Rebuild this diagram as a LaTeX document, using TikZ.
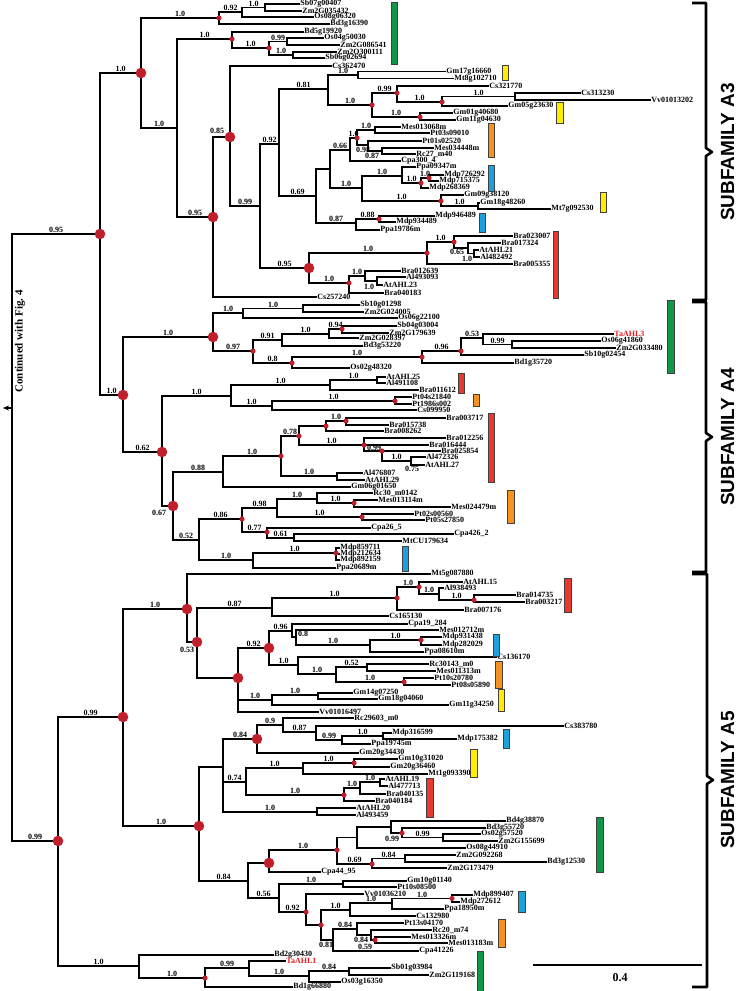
\documentclass[tikz,border=0pt]{standalone}
\usepackage{fontspec}
\setmainfont{Liberation Serif}
\newfontfamily\sflab{Liberation Sans}
\usetikzlibrary{arrows.meta}
\definecolor{dotred}{RGB}{192,32,44}
\definecolor{tared}{RGB}{228,30,36}
\definecolor{gbar}{RGB}{18,150,72}
\definecolor{ybar}{RGB}{255,236,0}
\definecolor{obar}{RGB}{246,146,30}
\definecolor{bbar}{RGB}{28,160,222}
\definecolor{rbar}{RGB}{234,56,46}
\newcounter{nd}
\tikzset{
 br/.style={line width=1.3pt, line cap=rect},
 lf/.style={anchor=west, inner sep=0.8pt, font=\fontsize{8}{9}\selectfont\bfseries},
 bl/.style={above, inner sep=0.6pt, font=\fontsize{8}{9}\selectfont\bfseries},
 cbar/.style={draw=black!75, line width=0.5pt},
 brk/.style={line width=2.6pt, line join=round},
 sub/.style={rotate=90, inner sep=0pt, font=\sflab\bfseries\fontsize{19}{22}\selectfont},
}
\newcommand\tvl[3]{\draw[br] (#1,#2) -- (#1,#3);}
\newcommand\thb[4]{\stepcounter{nd}\draw[br] (#1,#3) -- (#2,#3) node[midway,bl] (b\arabic{nd}) {#4};}
\newcommand\tlf[4]{\stepcounter{nd}\draw[br] (#1,#2) -- (#3,#2) node[lf] (l\arabic{nd}) {#4};}
\newcommand\tds[2]{\fill[dotred] (#1,#2) circle (2.6pt);}
\newcommand\tdb[2]{\fill[dotred] (#1,#2) circle (5.3pt);}
\newcommand\tbar[5]{\filldraw[cbar,fill=#1] (#2,#3) rectangle (#4,#5);}
\newcommand\tlab[3]{\stepcounter{nd}\node[bl,anchor=center] (m\arabic{nd}) at (#1,#2) {#3};}
\begin{document}
\begin{tikzpicture}[x=1pt,y=-1pt]
\useasboundingbox (0,0) rectangle (738,991);
% ---------------- left backbone (approx) ----------------
\tvl{12}{234}{841}
\draw[br,-{Stealth[length=6pt,width=5pt]}] (12,408) -- (3,408);
\node[rotate=90,font=\bfseries\fontsize{11}{13}\selectfont] (cont) at (20,341) {Continued with Fig. 4};
\thb{12}{100}{234}{0.95}
\tvl{100}{73}{395}
\thb{100}{141}{73}{1.0}
\thb{100}{123}{395}{1.0}
\thb{12}{58}{841}{0.99}
\tvl{58}{717}{966}
\thb{58}{123}{717}{0.99}
\thb{58}{139}{966}{1.0}
% ---------------- A3 ----------------
\tvl{141}{18}{128}
\thb{141}{219}{18}{1.0}
\tvl{219}{12}{24}
\thb{219}{242}{12}{0.92}
\tvl{242}{7.5}{17}
\thb{242}{265}{7.5}{1.0}
\tvl{265}{4}{11}
\tlf{265}{4}{299}{Sb07g00407}
\tlf{265}{11}{301}{Zm2G035432}
\tlf{242}{17}{313}{Os08g06320}
\tlf{219}{24}{329}{Bd3g16390}
\thb{141}{177}{128}{1.0}
\tvl{177}{39}{217}
\thb{177}{232}{39}{1.0}
\tvl{232}{32}{48}
\tlf{232}{32}{303}{Bd5g19920}
\thb{232}{269}{48}{1.0}
\tvl{269}{41.5}{55}
\thb{269}{287}{41.5}{0.99}
\tvl{287}{38}{45}
\tlf{287}{38}{323}{Os04g50030}
\tlf{287}{45}{339}{Zm2G086541}
\thb{269}{293}{55}{1.0}
\tvl{293}{52}{58}
\tlf{293}{52}{336}{Zm2O300111}
\tlf{293}{58}{324}{Sb06g02694}
\thb{177}{213}{217}{0.95}
\tvl{213}{137}{297}
\thb{213}{230}{137}{}
\tlab{217}{131}{0.85}
\tlf{213}{297}{316}{Cs257240}
\tvl{230}{66}{206}
\tlf{230}{66}{331}{Cs362470}
\thb{230}{260}{206}{0.99}
\tvl{260}{144}{268}
\thb{260}{279}{144}{0.92}
\tvl{279}{89}{196}
\thb{279}{328}{89}{0.81}
\tvl{328}{75}{105}
\thb{328}{358}{75}{1.0}
\tvl{358}{71.5}{78.5}
\tlf{358}{71.5}{445}{Gm17g16660}
\tlf{358}{78.5}{453}{Mt8g102710}
\thb{328}{372}{105}{1.0}
\tvl{372}{93}{117}
\thb{372}{397}{93}{0.99}
\tvl{397}{86}{102}
\tlf{397}{86}{488}{Cs321770}
\thb{397}{442}{102}{1.0}
\tvl{442}{96.5}{106}
\thb{442}{515}{96.5}{1.0}
\tvl{515}{93}{100}
\tlf{515}{93}{580}{Cs313230}
\tlf{515}{100}{650}{Vv01013202}
\tlf{442}{106}{507}{Gm05g23630}
\thb{372}{420}{117}{1.0}
\tvl{420}{113}{120}
\tlf{420}{113}{452}{Gm01g40680}
\tlf{420}{120}{455}{Gm11g04630}
\thb{279}{316}{196}{0.69}
\tvl{316}{169}{223}
\thb{316}{330}{169}{}
\tvl{330}{150}{188}
\thb{330}{350}{150}{0.66}
\tvl{350}{138}{161}
\thb{350}{357}{138}{1.0}
\tvl{357}{130}{145}
\thb{357}{375}{130}{1.0}
\tvl{375}{127}{133}
\tlf{375}{127}{400}{Mes013068m}
\tlf{375}{133}{429}{Pt03s09010}
\thb{357}{368}{145}{}
\tvl{368}{141}{151}
\tlf{368}{141}{421}{Pt01s02520}
\thb{368}{382}{151}{}
\tvl{382}{148}{154}
\tlf{382}{148}{433}{Mes034448m}
\tlf{382}{154}{415}{Rc27\_m40}
\tlf{350}{161}{400}{Cpa300\_4}
\tlab{363}{150}{0.98}
\tlab{372}{156}{0.87}
\thb{330}{362}{188}{1.0}
\tvl{362}{176}{201}
\thb{362}{402}{176}{1.0}
\tvl{402}{167}{183}
\tlf{402}{167}{415}{Ppa09347m}
\thb{402}{421}{183}{1.0}
\tvl{421}{178}{188}
\thb{421}{429}{178}{1.0}
\tvl{429}{175}{181}
\tlf{429}{175}{443}{Mdp726292}
\tlf{429}{181}{438}{Mdp715375}
\tlf{421}{188}{428}{Mdp268369}
\thb{362}{441}{201}{1.0}
\tvl{441}{195}{206}
\tlf{441}{195}{463}{Gm09g38120}
\thb{441}{478}{206}{1.0}
\tvl{478}{203}{209}
\tlf{478}{203}{479}{Gm18g48260}
\tlf{478}{209}{550}{Mt7g092530}
\thb{316}{356}{223}{0.87}
\tvl{356}{219}{230}
\thb{356}{379}{219}{0.88}
\tvl{379}{216}{222}
\tlf{379}{216}{434}{Mdp946489}
\tlf{379}{222}{395}{Mdp934489}
\tlf{356}{230}{379}{Ppa19786m}
\thb{260}{309}{268}{0.95}
\tvl{309}{253}{283}
\thb{309}{427}{253}{1.0}
\tvl{427}{242}{264}
\thb{427}{454}{242}{1.0}
\tvl{454}{236}{248}
\tlf{454}{236}{512}{Bra023007}
\thb{454}{468}{248}{}
\tvl{468}{243}{253.5}
\tlf{468}{243}{500}{Bra017324}
\thb{468}{474}{253.5}{}
\tvl{474}{250}{257}
\tlf{474}{250}{478}{AtAHL21}
\tlf{474}{257}{479}{Al482492}
\tlf{427}{264}{512}{Bra005355}
\tlab{457}{252}{0.65}
\tlab{467}{259}{1.0}
\thb{309}{349}{283}{1.0}
\tvl{349}{276}{293}
\thb{349}{365}{276}{1.0}
\tvl{365}{271}{281}
\tlf{365}{271}{400}{Bra012639}
\thb{365}{377}{281}{}
\tvl{377}{277}{285}
\tlf{377}{277}{405}{Al493093}
\tlf{377}{285}{382}{AtAHL23}
\tlf{349}{293}{383}{Bra040183}
\tlab{369}{287}{1.0}
% ---------------- A4 ----------------
\tvl{123}{337}{452}
\thb{123}{213}{337}{1.0}
\tvl{213}{313}{351}
\thb{213}{243}{313}{1.0}
\tvl{243}{308.5}{318}
\thb{243}{303}{308.5}{1.0}
\tvl{303}{305}{312}
\tlf{303}{305}{359}{Sb10g01298}
\tlf{303}{312}{363}{Zm2G024005}
\tlf{243}{318}{397}{Os06g22100}
\thb{213}{253}{351}{0.97}
\tvl{253}{340}{363}
\thb{253}{282}{340}{0.91}
\tvl{282}{334}{346}
\thb{282}{329}{334}{1.0}
\tvl{329}{329}{338}
\thb{329}{342}{329}{0.94}
\tvl{342}{326}{333}
\tlf{342}{326}{396}{Sb04g03004}
\tlf{342}{333}{388}{Zm2G179639}
\tlf{329}{338}{358}{Zm2G028397}
\tlf{282}{346}{362}{Bd3g53220}
\thb{253}{292}{363}{0.8}
\tvl{292}{357}{368}
\thb{292}{422}{357}{1.0}
\tvl{422}{351}{363}
\thb{422}{461}{351}{0.96}
\tvl{461}{338}{355}
\thb{461}{483}{338}{0.53}
\tvl{483}{334}{344.5}
\tlf{483}{334}{613}{\textcolor{tared}{TaAHL3}}
\thb{483}{512}{344.5}{0.99}
\tvl{512}{341}{348}
\tlf{512}{341}{600}{Os06g41860}
\tlf{512}{348}{615}{Zm2G033480}
\tlf{461}{355}{583}{Sb10g02454}
\tlf{422}{363}{513}{Bd1g35720}
\tlf{292}{368}{349}{Os02g48320}
\thb{123}{162}{452}{0.62}
\tvl{162}{396}{506}
\thb{162}{231}{396}{1.0}
\tvl{231}{385}{406}
\thb{231}{330}{385}{1.0}
\tvl{330}{380}{390}
\thb{330}{377}{380}{1.0}
\tvl{377}{377}{383}
\tlf{377}{377}{385}{AtAHL25}
\tlf{377}{383}{385}{Al491108}
\tlf{330}{390}{418}{Bra011612}
\thb{231}{272}{406}{1.0}
\tvl{272}{401}{410}
\thb{272}{395}{401}{1.0}
\tvl{395}{397}{404}
\tlf{395}{397}{411}{Pt04s21840}
\tlf{395}{404}{411}{Pt1986s002}
\tlf{272}{410}{416}{Cs099950}
\thb{162}{173}{506}{}
\tlab{159}{513}{0.67}
\tvl{173}{472}{540}
\thb{173}{223}{472}{0.88}
\tvl{223}{456}{487}
\thb{223}{281}{456}{1.0}
\tvl{281}{436}{476}
\thb{281}{299}{436}{0.78}
\tvl{299}{426}{445}
\thb{299}{326}{426}{}
\tvl{326}{421}{431}
\thb{326}{346}{421}{1.0}
\tvl{346}{418}{425}
\tlf{346}{418}{445}{Bra003717}
\tlf{346}{425}{388}{Bra015738}
\tlf{326}{431}{383}{Bra008262}
\thb{299}{364}{445}{1.0}
\tvl{364}{438}{451}
\tlf{364}{438}{445}{Bra012256}
\tlf{364}{445}{428}{Bra016444}
\thb{364}{382}{451}{}
\tlab{374}{448}{0.99}
\tvl{382}{451}{461}
\tlf{382}{451}{440}{Bra025854}
\thb{382}{411}{461}{1.0}
\tvl{411}{457}{465}
\tlf{411}{457}{425}{Al472326}
\tlf{411}{465}{424}{AtAHL27}
\tlab{412}{469}{0.75}
\thb{281}{337}{476}{1.0}
\tvl{337}{473}{480}
\tlf{337}{473}{362}{Al476807}
\tlf{337}{480}{364}{AtAHL29}
\tlf{223}{487}{350}{Gm06g01650}
\thb{173}{199}{540}{0.52}
\tvl{199}{519}{560}
\thb{199}{242}{519}{0.86}
\tvl{242}{508}{532}
\thb{242}{277}{508}{0.98}
\tvl{277}{499}{517}
\thb{277}{317}{499}{1.0}
\tvl{317}{493}{503}
\tlf{317}{493}{372}{Rc30\_m0142}
\thb{317}{354}{503}{1.0}
\tvl{354}{500}{507}
\tlf{354}{500}{377}{Mes013114m}
\tlf{354}{507}{450}{Mes024479m}
\thb{277}{362}{517}{1.0}
\tvl{362}{514}{520}
\tlf{362}{514}{413}{Pt02s00560}
\tlf{362}{520}{424}{Pt05s27850}
\thb{242}{267}{532}{0.77}
\tvl{267}{528}{538}
\tlf{267}{528}{370}{Cpa26\_5}
\thb{267}{294}{538}{0.61}
\tvl{294}{534}{541}
\tlf{294}{534}{453}{Cpa426\_2}
\tlf{294}{541}{401}{MtCU179634}
\thb{199}{253}{560}{1.0}
\tvl{253}{553}{568}
\thb{253}{336}{553}{1.0}
\tvl{336}{548}{560}
\tlf{336}{548}{339}{Mdp859711}
\tlf{336}{554}{339}{Mdp212634}
\tlf{336}{560}{339}{Mdp892159}
\tlf{253}{568}{335}{Ppa20689m}
% ---------------- A5 ----------------
\tvl{123}{609}{826}
\thb{123}{187}{609}{1.0}
\tvl{187}{574}{642}
\tlf{187}{574}{430}{Mt5g087880}
\thb{187}{197}{642}{}
\tlab{187}{650}{0.53}
\tvl{197}{608}{678}
\thb{197}{272}{608}{0.87}
\tvl{272}{598}{616}
\thb{272}{397}{598}{1.0}
\tvl{397}{587}{610}
\thb{397}{419}{587}{1.0}
\tvl{419}{582}{594}
\tlf{419}{582}{462}{AtAHL15}
\thb{419}{439}{594}{1.0}
\tvl{439}{588}{600}
\tlf{439}{588}{443}{Al938493}
\thb{439}{474}{600}{1.0}
\tvl{474}{595}{602}
\tlf{474}{595}{515}{Bra014735}
\tlf{474}{602}{524}{Bra003217}
\tlf{397}{610}{463}{Bra007176}
\tlf{272}{616}{388}{Cs165130}
\thb{197}{238}{678}{}
\tvl{238}{648}{712}
\thb{238}{269}{648}{0.92}
\tvl{269}{631}{665}
\thb{269}{292}{631}{0.96}
\tvl{292}{624}{637}
\tlf{292}{624}{407}{Cpa19\_284}
\thb{292}{296}{637}{}
\tlab{303}{634}{0.8}
\tvl{296}{630}{645}
\tlf{296}{630}{438}{Mes012712m}
\thb{296}{370}{645}{1.0}
\tvl{370}{640}{652}
\thb{370}{421}{640}{1.0}
\tvl{421}{637}{645}
\tlf{421}{637}{441}{Mdp931438}
\tlf{421}{645}{441}{Mdp282029}
\tlf{370}{652}{423}{Ppa08610m}
\thb{269}{298}{665}{1.0}
\tvl{298}{657}{674}
\tlf{298}{657}{496}{Cs136170}
\thb{298}{336}{674}{1.0}
\tvl{336}{667}{682}
\thb{336}{367}{667}{0.52}
\tvl{367}{664}{671}
\tlf{367}{664}{428}{Rc30143\_m0}
\tlf{367}{671}{435}{Mes011313m}
\thb{336}{404}{682}{1.0}
\tvl{404}{678}{685}
\tlf{404}{678}{433}{Pt10s20780}
\tlf{404}{685}{450}{Pt08s05890}
\thb{238}{272}{700}{1.0}
\tvl{272}{695}{705}
\thb{272}{318}{695}{1.0}
\tvl{318}{693}{699}
\tlf{318}{693}{352}{Gm14g07250}
\tlf{318}{699}{377}{Gm18g04060}
\tlf{272}{705}{448}{Gm11g34250}
\tlf{238}{712}{318}{Vv01016497}
\thb{123}{199}{826}{1.0}
\tvl{199}{767}{881}
\thb{199}{223}{767}{}
\tvl{223}{739}{812}
\thb{223}{257}{739}{0.84}
\tvl{257}{725}{753}
\thb{257}{283}{725}{0.9}
\tvl{283}{718}{732}
\tlf{283}{718}{353}{Rc29603\_m0}
\thb{283}{316}{732}{0.87}
\tvl{316}{726}{740}
\tlf{316}{726}{563}{Cs383780}
\thb{316}{342}{740}{0.99}
\tvl{342}{736}{744}
\thb{342}{383}{736}{1.0}
\tvl{383}{733}{739}
\tlf{383}{733}{391}{Mdp316599}
\tlf{383}{739}{456}{Mdp175382}
\tlf{342}{744}{370}{Ppa19745m}
\tlf{257}{753}{358}{Gm20g34430}
\thb{223}{246}{782}{0.74}
\tvl{246}{768}{795}
\thb{246}{303}{768}{1.0}
\tvl{303}{763}{774}
\thb{303}{354}{763}{1.0}
\tvl{354}{759}{767}
\tlf{354}{759}{397}{Gm10g31020}
\tlf{354}{767}{389}{Gm20g36460}
\tlf{303}{774}{427}{Mt1g093390}
\thb{246}{344}{795}{1.0}
\tvl{344}{788}{801}
\thb{344}{360}{788}{1.0}
\tvl{360}{782}{794}
\thb{360}{380}{782}{1.0}
\tvl{380}{779}{786}
\tlf{380}{779}{384}{AtAHL19}
\tlf{380}{786}{387}{Al477713}
\tlf{360}{794}{385}{Bra040135}
\tlf{344}{801}{374}{Bra040184}
\thb{223}{317}{812}{1.0}
\tvl{317}{808}{815}
\tlf{317}{808}{355}{AtAHL20}
\tlf{317}{815}{355}{Al493459}
\thb{199}{248}{881}{0.84}
\tvl{248}{863}{898}
\thb{248}{269}{863}{}
\tvl{269}{850}{872}
\thb{269}{337}{850}{1.0}
\tvl{337}{837.5}{864}
\thb{337}{357}{837.5}{}
\tvl{357}{827}{848}
\thb{357}{391}{827}{}
\tvl{391}{821}{833}
\tlf{391}{821}{505}{Bd4g38870}
\thb{391}{402}{833}{}
\tlab{392}{839}{0.99}
\tvl{402}{828}{837.5}
\tlf{402}{828}{485}{Bd3g55720}
\thb{402}{443}{837.5}{0.99}
\tvl{443}{834}{841}
\tlf{443}{834}{480}{Os02g57520}
\tlf{443}{841}{497}{Zm2G155699}
\tlf{357}{848}{465}{Os08g44910}
\thb{337}{372}{864}{0.69}
\tvl{372}{858.5}{868}
\thb{372}{405}{858.5}{0.84}
\tvl{405}{855}{862}
\tlf{405}{855}{455}{Zm2G092268}
\tlf{405}{862}{546}{Bd3g12530}
\tlf{372}{868}{446}{Zm2G173479}
\tlf{269}{872}{320}{Cpa44\_95}
\thb{248}{279}{898}{0.56}
\tvl{279}{884}{912}
\thb{279}{343}{884}{1.0}
\tvl{343}{881}{887}
\tlf{343}{881}{406}{Gm10g01140}
\tlf{343}{887}{396}{Pt10s08500}
\thb{279}{306}{912}{0.92}
\tvl{306}{894}{925}
\tlf{306}{894}{363}{Vv01036210}
\thb{306}{321}{925}{}
\tvl{321}{910}{940}
\thb{321}{350}{910}{1.0}
\tvl{350}{903}{916}
\thb{350}{392}{903}{1.0}
\tvl{392}{898.5}{909}
\thb{392}{452}{898.5}{1.0}
\tvl{452}{895}{902}
\tlf{452}{895}{472}{Mdp899407}
\tlf{452}{902}{459}{Mdp272612}
\tlf{392}{909}{443}{Ppa18950m}
\tlf{350}{916}{415}{Cs132980}
\thb{321}{333}{940}{}
\tlab{326}{945}{0.81}
\tvl{333}{929}{951}
\thb{333}{357}{929}{0.84}
\tvl{357}{923}{935}
\tlf{357}{923}{403}{Pt13s04170}
\thb{357}{371}{935}{}
\tvl{371}{930}{940}
\tlf{371}{930}{431}{Rc20\_m74}
\thb{371}{375}{940}{}
\tlab{361}{940}{0.84}
\tlab{365}{947}{0.59}
\tvl{375}{937}{943}
\tlf{375}{937}{410}{Mes013326m}
\tlf{375}{943}{447}{Mes013183m}
\tlf{333}{951}{418}{Cpa41226}
% bottom group
\tvl{139}{955}{978}
\tlf{139}{955}{273}{Bd2g30430}
\thb{139}{205}{978}{1.0}
\tvl{205}{968}{987}
\thb{205}{249}{968}{0.99}
\tvl{249}{961}{976}
\tlf{249}{961}{285}{\textcolor{tared}{TaAHL1}}
\thb{249}{309}{976}{1.0}
\tvl{309}{971}{982}
\thb{309}{349}{971}{0.84}
\tvl{349}{968}{975}
\tlf{349}{968}{390}{Sb01g03984}
\tlf{349}{975}{428}{Zm2G119168}
\tlf{309}{982}{340}{Os03g16350}
\tlf{205}{987}{292}{Bd1g66880}
% ---------------- dots ----------------
\foreach \a/\b in {219/18,232/39,269/48,372/105,397/93,442/102,420/117,357/138,421/183,429/178,441/201,379/219,427/253,454/242,349/283,253/351,342/329,292/363,422/357,461/351,395/401,281/456,299/436,326/426,346/421,364/445,382/451,242/519,354/503,362/517,267/532,336/553,397/598,419/587,474/600,421/640,404/682,354/763,344/795,337/850,402/833,372/864,306/912,321/925,452/898.5,375/940,205/978}{\tds{\a}{\b}}
\foreach \a/\b in {141/73,213/217,230/137,309/268,213/337,162/452,173/506,187/609,197/642,238/678,269/648,257/739,199/826,269/863,100/234,123/395,123/717,58/841}{\tdb{\a}{\b}}
% ---------------- colour bars ----------------
\tbar{gbar}{391}{2}{397}{64}
\tbar{ybar}{502}{65}{508}{80}
\tbar{ybar}{556}{102}{563}{123}
\tbar{obar}{488}{123}{494}{157}
\tbar{bbar}{488}{165}{494}{191}
\tbar{ybar}{600}{192}{606}{212}
\tbar{bbar}{479}{213}{485}{232}
\tbar{rbar}{553}{231}{558}{298}
\tbar{gbar}{667}{300}{674}{373}
\tbar{rbar}{458}{373}{464}{393}
\tbar{obar}{473}{394}{479}{406}
\tbar{rbar}{488}{413}{494}{482}
\tbar{obar}{507}{490}{514}{523}
\tbar{bbar}{402}{546}{408}{571}
\tbar{rbar}{564}{578}{571}{612}
\tbar{bbar}{493}{634}{499}{656}
\tbar{obar}{495}{661}{502}{688}
\tbar{ybar}{498}{689}{504}{711}
\tbar{bbar}{503}{729}{509}{748}
\tbar{ybar}{470}{749}{477}{777}
\tbar{rbar}{426}{778}{433}{817}
\tbar{gbar}{596}{817}{603}{872}
\tbar{bbar}{518}{891}{525}{912}
\tbar{obar}{498}{919}{505}{947}
\tbar{gbar}{477}{951}{483}{991}
% ---------------- subfamily brackets ----------------
\draw[brk] (692,3) -- (706,3) -- (706,148) -- (712,152) -- (706,156) -- (706,300) -- (692,300);
\draw[brk] (692,302) -- (706,302) -- (706,433) -- (712,437) -- (706,441) -- (706,572) -- (692,572);
\draw[brk] (692,574) -- (707,574) -- (707,776) -- (713,780) -- (707,784) -- (707,987) -- (692,987);
\node[sub] (sA3) at (727.5,152) {SUBFAMILY A3};
\node[sub] (sA4) at (727.5,437) {SUBFAMILY A4};
\node[sub] (sA5) at (727.5,780) {SUBFAMILY A5};
% ---------------- scale bar ----------------
\draw[line width=1.6pt] (533,965) -- (702,965);
\node[font=\bfseries\fontsize{12}{14}\selectfont] (scl) at (620,978) {0.4};
\end{tikzpicture}
\end{document}
